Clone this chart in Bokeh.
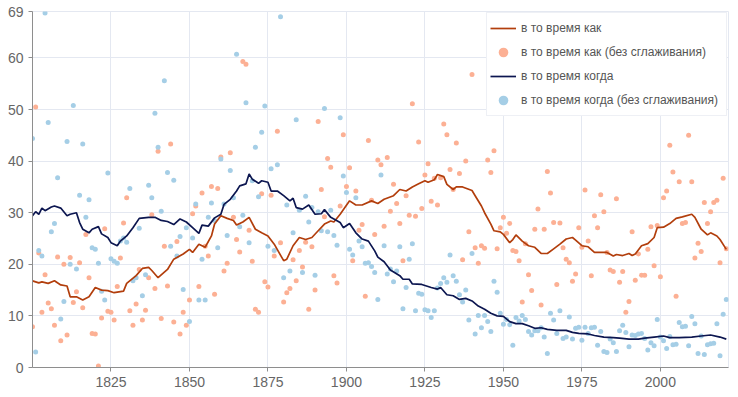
from bokeh.plotting import figure
from bokeh.models import FixedTicker, Range1d, Legend, LegendItem
from bokeh.embed import file_html
from bokeh.resources import INLINE

years = list(range(1800, 2022))

# "в то время как" — raw yearly values
kak_raw = [
    7.9, 50.5, 22.2, 10.7, 18.0, 12.5, 11.4, 8.2, 21.4, 5.2,
    20.0, 6.3, 21.3, 12.6, 14.7, 20.3, 11.6, 25.8, 17.4, 6.6,
    6.5, 0.3, 9.6, 26.9, 10.9, 10.7, 9.2, 15.7, 21.2, 28.0,
    32.9, 11.0, 8.2, 12.3, 19.0, 9.2, 11.1, 17.4, 29.6, 15.3,
    41.9, 9.5, 23.5, 15.8, 43.3, 8.8, 24.4, 6.5, 10.7, 8.2,
    13.1, 29.8, 31.3, 15.7, 33.8, 23.5, 21.6, 35.1, 14.2, 34.7,
    40.8, 18.7, 20.2, 41.6, 29.1, 24.8, 22.4, 59.3, 58.8, 26.6,
    20.6, 11.3, 10.7, 33.7, 16.6, 15.6, 33.4, 21.6, 45.8, 24.2,
    12.7, 14.5, 15.3, 20.9, 16.8, 22.7, 19.5, 24.3, 11.3, 23.4,
    15.0, 47.7, 34.5, 29.2, 40.5, 38.8, 17.8, 16.4, 31.3, 45.1,
    35.1, 38.7, 20.7, 34.2, 26.6, 27.7, 13.8, 44.0, 32.4, 25.8,
    40.2, 39.3, 27.4, 40.7, 30.3, 35.5, 31.8, 27.9, 20.7, 33.3,
    29.5, 51.1, 29.3, 43.7, 30.8, 37.3, 39.5, 32.2, 36.7, 31.5,
    36.8, 47.2, 45.1, 38.4, 34.5, 43.5, 37.6, 20.9, 40.0, 26.3,
    56.8, 23.2, 20.2, 23.6, 23.1, 40.2, 37.8, 42.0, 23.0, 27.1,
    29.1, 26.0, 27.9, 22.7, 22.5, 20.7, 12.7, 24.0, 18.0, 14.9,
    26.8, 30.7, 12.1, 26.8, 38.0, 33.8, 28.1, 16.1, 28.0, 23.2,
    21.0, 20.3, 16.7, 18.1, 27.1, 23.3, 34.4, 24.5, 17.8, 29.4,
    27.1, 33.5, 30.2, 22.3, 18.9, 18.6, 32.7, 16.5, 18.6, 10.7,
    12.8, 26.3, 16.9, 22.0, 17.9, 17.9, 22.9, 27.3, 19.7, 27.5,
    17.6, 32.9, 34.2, 43.1, 37.9, 13.8, 36.0, 27.9, 28.1, 45.0,
    36.0, 21.2, 24.1, 22.5, 32.0, 27.9, 30.2, 32.0, 32.4, 20.3,
    36.7, 23.0,
]

# "в то время когда" — raw yearly values
kogda_raw = [
    44.4, 3.0, 22.7, 21.6, 68.7, 47.5, 26.3, 27.9, 36.8, 9.4,
    12.8, 43.8, 20.0, 50.8, 19.1, 33.4, 43.3, 29.1, 32.5, 23.2,
    22.9, 20.2, 14.8, 13.1, 37.7, 21.1, 20.6, 20.2, 24.5, 25.1,
    24.3, 34.7, 16.8, 17.4, 27.0, 13.9, 18.0, 35.3, 32.9, 49.3,
    42.7, 30.3, 55.6, 37.8, 23.5, 36.3, 21.6, 25.4, 15.1, 27.1,
    8.9, 25.1, 31.7, 13.1, 21.0, 13.1, 29.1, 31.9, 28.5, 23.2,
    40.4, 31.7, 25.6, 38.2, 32.9, 60.7, 27.3, 29.5, 51.3, 24.2,
    36.2, 42.7, 33.1, 45.6, 50.7, 23.5, 38.5, 22.7, 39.3, 68.0,
    17.4, 31.5, 18.7, 26.1, 48.0, 30.5, 18.4, 33.2, 28.2, 31.0,
    17.9, 30.2, 26.5, 50.2, 26.3, 30.5, 25.6, 23.7, 48.4, 37.1,
    33.9, 22.9, 21.8, 32.9, 24.5, 23.4, 20.2, 20.3, 19.6, 18.4,
    13.2, 37.3, 23.6, 18.1, 19.1, 16.6, 18.7, 23.4, 11.4, 15.5,
    21.0, 24.0, 11.0, 14.4, 14.2, 11.2, 11.0, 9.7, 11.0, 15.4,
    16.3, 17.4, 16.5, 21.8, 17.8, 16.7, 14.1, 12.7, 15.0, 9.2,
    22.1, 6.5, 10.1, 7.7, 10.1, 8.9, 7.0, 16.7, 14.6, 10.5,
    8.4, 9.3, 8.3, 4.3, 9.7, 9.0, 10.1, 9.3, 7.0, 6.3,
    7.1, 7.1, 7.7, 5.9, 2.7, 10.5, 9.2, 6.6, 11.0, 5.6,
    5.9, 9.8, 5.5, 7.6, 7.8, 5.3, 7.8, 6.6, 7.7, 7.8,
    4.3, 7.0, 3.1, 2.9, 5.5, 4.8, 3.1, 7.1, 8.2, 6.8,
    4.0, 6.3, 6.2, 6.5, 6.6, 5.6, 3.4, 4.8, 4.2, 9.3,
    5.9, 5.2, 3.7, 6.0, 4.4, 4.5, 8.7, 7.9, 8.0, 4.2,
    9.9, 8.5, 2.7, 6.1, 2.5, 4.4, 4.6, 4.7, 8.5, 2.3,
    10.3, 13.2,
]

# smoothed curves
kak_line_years = [
    1800, 1802, 1803, 1805, 1807, 1809, 1811, 1812, 1814, 1816, 1818, 1820,
    1822, 1824, 1826, 1829, 1830, 1833, 1835, 1837, 1838, 1840, 1843, 1845,
    1848, 1850, 1851, 1853, 1855, 1857, 1858, 1860, 1862, 1864, 1865, 1867,
    1869, 1871, 1873, 1875, 1877, 1880, 1881, 1883, 1885, 1887, 1889, 1891,
    1893, 1895, 1896, 1898, 1901, 1903, 1905, 1908, 1910, 1912, 1915, 1917,
    1919, 1921, 1923, 1925, 1926, 1928, 1929, 1931, 1932, 1934, 1935, 1937,
    1940, 1941, 1943, 1944, 1946, 1947, 1949, 1950, 1952, 1953, 1954, 1956,
    1958, 1960, 1962, 1964, 1966, 1968, 1970, 1972, 1973, 1975, 1977, 1979,
    1981, 1983, 1985, 1986, 1988, 1990, 1991, 1992, 1994, 1996, 1998, 1999,
    2001, 2003, 2005, 2007, 2010, 2011, 2013, 2015, 2016, 2018, 2019, 2021,
]
kak_line = [
    16.8, 16.4, 16.6, 16.3, 16.8, 16.0, 15.8, 13.7, 13.7, 13.1, 13.7, 15.5,
    15.0, 14.9, 14.5, 14.8, 16.3, 17.8, 19.2, 19.4, 18.8, 17.4, 19.0, 21.0,
    22.0, 22.9, 22.3, 23.9, 23.3, 25.5, 27.8, 29.4, 28.9, 28.5, 27.6, 28.2,
    29.1, 26.8, 26.1, 25.5, 23.9, 20.7, 21.0, 23.6, 25.2, 24.8, 25.2, 26.5,
    27.8, 28.4, 28.2, 29.7, 32.3, 31.5, 31.5, 32.3, 31.8, 32.6, 33.3, 34.5,
    34.2, 35.0, 35.6, 36.2, 35.9, 36.4, 37.4, 37.0, 35.5, 34.5, 35.0, 35.0,
    34.3, 33.3, 31.3, 30.0, 27.8, 26.5, 26.3, 25.8, 24.2, 24.8, 25.7, 24.5,
    23.6, 23.3, 22.1, 22.1, 23.0, 23.9, 24.9, 25.2, 24.7, 23.6, 23.4, 22.3,
    22.3, 22.3, 21.6, 21.9, 21.7, 22.1, 21.7, 22.0, 23.6, 24.0, 25.2, 27.1,
    27.2, 27.9, 28.9, 29.2, 29.7, 29.1, 26.8, 25.7, 26.1, 25.5, 24.8, 22.9,
]

kogda_line_years = [
    1800, 1801, 1802, 1803, 1804, 1806, 1807, 1809, 1811, 1812, 1814, 1815,
    1816, 1818, 1819, 1821, 1822, 1824, 1825, 1827, 1828, 1830, 1832, 1834,
    1837, 1839, 1841, 1843, 1845, 1847, 1849, 1851, 1853, 1854, 1856, 1858,
    1860, 1861, 1863, 1865, 1866, 1868, 1869, 1870, 1872, 1873, 1875, 1876,
    1878, 1880, 1882, 1883, 1884, 1886, 1888, 1890, 1892, 1893, 1895, 1898,
    1899, 1901, 1903, 1905, 1907, 1909, 1910, 1912, 1914, 1917, 1918, 1920,
    1921, 1924, 1927, 1929, 1930, 1932, 1934, 1936, 1938, 1940, 1942, 1944,
    1946, 1948, 1950, 1952, 1954, 1956, 1958, 1960, 1962, 1964, 1967, 1970,
    1972, 1974, 1977, 1979, 1982, 1985, 1987, 1990, 1993, 1995, 1998, 2001,
    2003, 2006, 2010, 2013, 2016, 2019, 2021,
]
kogda_line = [
    29.4, 30.2, 29.7, 30.9, 30.4, 31.1, 31.3, 30.9, 29.4, 29.7, 30.0, 28.1,
    26.8, 26.1, 26.8, 27.3, 25.9, 25.2, 24.2, 23.6, 24.5, 25.5, 27.1, 28.9,
    29.1, 29.1, 28.5, 28.3, 27.7, 28.8, 28.2, 27.1, 26.0, 27.6, 27.4, 29.0,
    29.7, 31.6, 32.6, 34.2, 35.2, 35.6, 37.5, 36.5, 35.7, 36.2, 35.9, 34.2,
    34.2, 33.3, 32.3, 32.8, 31.0, 30.7, 31.5, 29.7, 29.8, 30.6, 29.1, 28.1,
    27.1, 27.9, 26.1, 24.9, 24.5, 22.6, 21.4, 20.5, 18.9, 17.8, 17.1, 17.1,
    16.2, 16.1, 15.5, 15.2, 15.5, 14.1, 13.9, 13.2, 13.4, 12.9, 11.9, 11.3,
    10.5, 10.0, 9.9, 8.9, 8.5, 8.5, 8.1, 7.6, 7.7, 7.4, 7.2, 7.2,
    6.8, 6.6, 6.5, 6.2, 5.9, 5.8, 5.7, 5.5, 5.5, 5.7, 5.9, 6.1,
    5.8, 5.8, 5.9, 6.1, 6.3, 5.9, 5.5,
]

x_ticks = [1825, 1850, 1875, 1900, 1925, 1950, 1975, 2000]
y_ticks = [0, 10, 20, 30, 40, 50, 60, 69]

labels = [
    "в то время как",
    "в то время как (без сглаживания)",
    "в то время когда",
    "в то время когда (без сглаживания)",
]

FONT = "Liberation Sans"
GRID = "#e4e8f1"
AXIS = "#8e8e8e"

p = figure(
    width=738, height=397, output_backend="svg", toolbar_location=None,
    x_range=Range1d(1800, 2021.7), y_range=Range1d(0, 69),
    min_border_left=32, min_border_right=10, min_border_top=11, min_border_bottom=30,
)
p.background_fill_color = "white"
p.border_fill_color = "white"
p.outline_line_color = GRID

for ax in (p.xaxis[0], p.yaxis[0]):
    ax.axis_line_color = AXIS
    ax.axis_line_width = 1
    ax.major_tick_line_color = AXIS
    ax.major_tick_out = 4
    ax.major_tick_in = 0
    ax.minor_tick_line_color = None
    ax.major_label_text_font = FONT
    ax.major_label_text_font_size = "14px"
    ax.major_label_text_color = "#666666"
    ax.major_label_standoff = 5

p.xaxis[0].ticker = FixedTicker(ticks=x_ticks)
p.yaxis[0].ticker = FixedTicker(ticks=y_ticks)
p.xgrid[0].ticker = FixedTicker(ticks=x_ticks)
p.ygrid[0].ticker = FixedTicker(ticks=y_ticks)
p.xgrid.grid_line_color = GRID
p.ygrid.grid_line_color = GRID
p.xgrid.grid_line_width = 1
p.ygrid.grid_line_width = 1

r_kak_pts = p.scatter(years, kak_raw, size=5, fill_color="#fcb094", line_color=None)
r_kogda_pts = p.scatter(years, kogda_raw, size=5, fill_color="#a5cee6", line_color=None)
r_kak = p.line(kak_line_years, kak_line, line_color="#b23e0c", line_width=1.7)
r_kogda = p.line(kogda_line_years, kogda_line, line_color="#0c1650", line_width=1.7)

legend = Legend(
    items=[
        LegendItem(label=labels[0], renderers=[r_kak]),
        LegendItem(label=labels[1], renderers=[r_kak_pts]),
        LegendItem(label=labels[2], renderers=[r_kogda]),
        LegendItem(label=labels[3], renderers=[r_kogda_pts]),
    ],
    location="top_right",
    margin=1,
    padding=3,
    spacing=0,
    glyph_width=26,
    glyph_height=24,
    label_height=24,
    label_width=202,
    label_standoff=5,
    label_text_font=FONT,
    label_text_font_size="12px",
    label_text_color="#555555",
    border_line_color="#dde2ec",
    border_line_width=1,
    background_fill_color="white",
    background_fill_alpha=1.0,
)
p.add_layout(legend)

open("out.html", "w").write(file_html(p, INLINE))
